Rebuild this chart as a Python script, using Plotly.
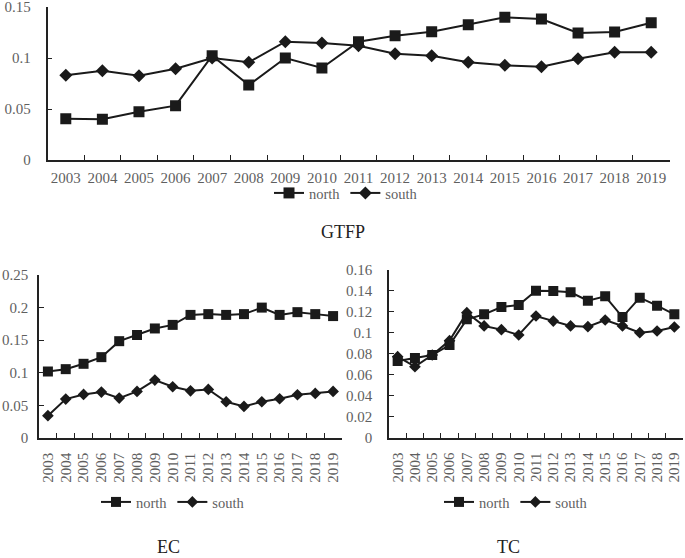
import plotly.graph_objects as go

years = ["2003", "2004", "2005", "2006", "2007", "2008", "2009", "2010", "2011",
         "2012", "2013", "2014", "2015", "2016", "2017", "2018", "2019"]

gtfp_north = [0.0405, 0.0399, 0.0474, 0.0533, 0.1023, 0.0735, 0.1000, 0.0902, 0.1160,
              0.1219, 0.1258, 0.1327, 0.1399, 0.1382, 0.1245, 0.1255, 0.1346]
gtfp_south = [0.0830, 0.0876, 0.0827, 0.0895, 0.1000, 0.0958, 0.1160, 0.1147, 0.1121,
              0.1042, 0.1023, 0.0958, 0.0928, 0.0915, 0.0993, 0.1056, 0.1056]

ec_north = [0.102, 0.1056, 0.1138, 0.124, 0.1485, 0.158, 0.168, 0.1735, 0.1888,
            0.190, 0.1888, 0.190, 0.200, 0.1888, 0.193, 0.190, 0.187]
ec_south = [0.0342, 0.0597, 0.0668, 0.0704, 0.0612, 0.0714, 0.0888, 0.0786, 0.0724,
            0.0745, 0.0556, 0.0485, 0.0556, 0.0602, 0.0663, 0.0684, 0.0714]

tc_north = [0.0732, 0.0760, 0.0789, 0.0884, 0.1129, 0.1177, 0.1247, 0.1266, 0.1403,
            0.1400, 0.1387, 0.1307, 0.1349, 0.1151, 0.1336, 0.1260, 0.1177]
tc_south = [0.0773, 0.0678, 0.0789, 0.0926, 0.1193, 0.1066, 0.1031, 0.0980, 0.1161,
            0.1113, 0.1066, 0.1059, 0.1123, 0.1066, 0.1002, 0.1018, 0.1056]

W, H = 685, 558
FONT = "Liberation Serif, Times New Roman, serif"
LINE = "#1a1a1a"
TICKC = "#5f5f5f"

fig = go.Figure()

panels = [
    ("x", "y", "legend", gtfp_north, gtfp_south, 11, 10),
    ("x2", "y2", "legend2", ec_north, ec_south, 10, 9),
    ("x3", "y3", "legend3", tc_north, tc_south, 10, 9),
]
for xa, ya, lg, n, s, ms, md in panels:
    fig.add_trace(go.Scatter(x=years, y=n, name="north", xaxis=xa, yaxis=ya, legend=lg,
                             mode="lines+markers",
                             line=dict(color=LINE, width=2),
                             marker=dict(symbol="square", size=ms, color=LINE)))
    fig.add_trace(go.Scatter(x=years, y=s, name="south", xaxis=xa, yaxis=ya, legend=lg,
                             mode="lines+markers",
                             line=dict(color=LINE, width=2),
                             marker=dict(symbol="diamond", size=md, color=LINE)))


def px_x(a, b):
    return [a / W, b / W]


def px_y(top, bottom):
    return [1 - bottom / H, 1 - top / H]


xcommon = dict(type="category", showline=True, linecolor="#222", linewidth=1.5,
               ticks="inside", ticklen=5, tickcolor="#222", tickwidth=1.2,
               tickson="boundaries", showgrid=False, zeroline=False, automargin=False,
               tickmode="array", tickvals=years, ticktext=years,
               ticklabeloverflow="allow",
               tickfont=dict(family=FONT, size=15, color=TICKC),
               range=[-0.5, 16.5])
ycommon = dict(showline=True, linecolor="#222", linewidth=1.5,
               ticks="inside", ticklen=5, tickcolor="#222", tickwidth=1.2,
               showgrid=False, zeroline=False, automargin=False,
               ticklabeloverflow="allow",
               tickfont=dict(family=FONT, size=15, color=TICKC))
rot_font = dict(family=FONT, size=15, color=TICKC)

fig.update_layout(
    template="none",
    width=W, height=H,
    margin=dict(l=0, r=0, t=0, b=0, pad=0),
    paper_bgcolor="white", plot_bgcolor="white",
    xaxis=dict(xcommon, domain=px_x(47.5, 669.5), anchor="y", tickangle=0,
               ticklabelstandoff=3),
    yaxis=dict(ycommon, domain=px_y(7, 160), anchor="x", range=[0, 0.15], dtick=0.05,
               ticklabelstandoff=12),
    xaxis2=dict(xcommon, domain=px_x(39, 342), anchor="y2", tickangle=-90,
                ticklabelstandoff=7, tickfont=rot_font),
    yaxis2=dict(ycommon, domain=px_y(275, 438), anchor="x2", range=[0, 0.25], dtick=0.05,
                ticklabelstandoff=6),
    xaxis3=dict(xcommon, domain=px_x(389, 683), anchor="y3", tickangle=-90,
                ticklabelstandoff=7, tickfont=rot_font),
    yaxis3=dict(ycommon, domain=px_y(270, 437.7), anchor="x3", range=[0, 0.16], dtick=0.02,
                ticklabelstandoff=12),
    showlegend=True,
)

legend_style = dict(orientation="h", xanchor="center", yanchor="middle",
                    bgcolor="rgba(0,0,0,0)", itemwidth=30, borderwidth=0,
                    font=dict(family=FONT, size=14.5, color=TICKC))
fig.update_layout(
    legend=dict(legend_style, x=346 / W, y=1 - 193 / H),
    legend2=dict(legend_style, x=173 / W, y=1 - 502 / H),
    legend3=dict(legend_style, x=516 / W, y=1 - 502 / H),
)

title_font = dict(family=FONT, size=18, color="#222")
for text, cx, cy in [("GTFP", 343, 232), ("EC", 168, 547), ("TC", 508, 547)]:
    fig.add_annotation(text=text, x=cx / W, y=1 - cy / H, xref="paper", yref="paper",
                       showarrow=False, xanchor="center", yanchor="middle", font=title_font)

fig.write_html(
    "out.html",
    config={"displayModeBar": False},
    post_script="document.body.style.margin='0';document.body.style.padding='0';"
                "document.body.style.overflow='hidden';",
)
